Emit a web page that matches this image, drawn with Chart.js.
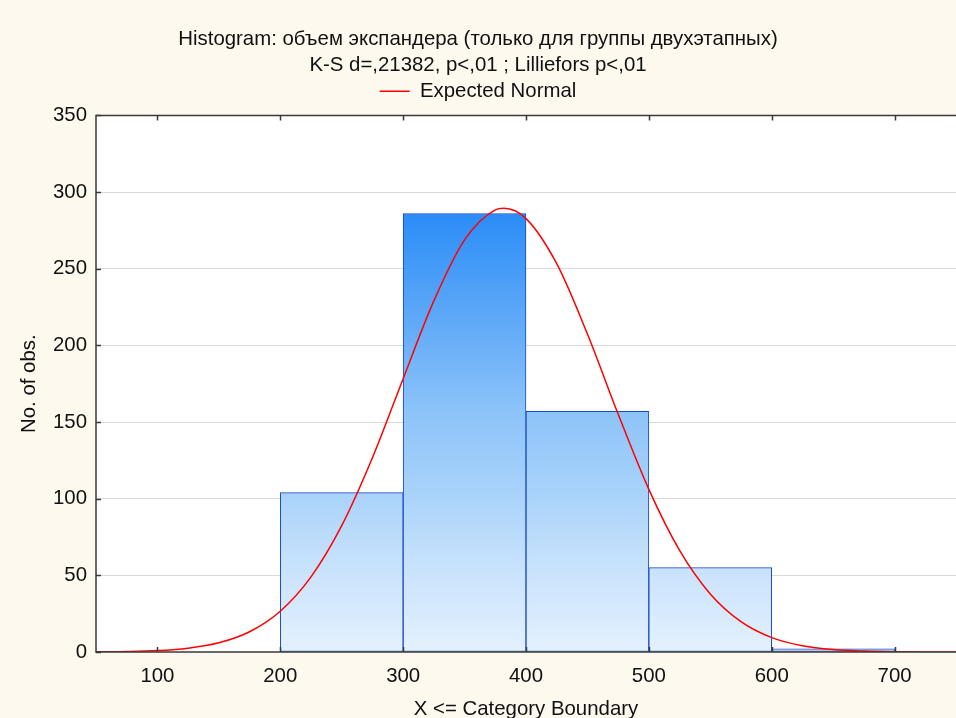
<!DOCTYPE html>
<html>
<head>
<meta charset="utf-8">
<script src="https://cdn.jsdelivr.net/npm/chart.js@4/dist/chart.umd.min.js"></script>
<style>
  html, body { margin: 0; padding: 0; background: #fdf9ee; }
  canvas { display: block; }
</style>
</head>
<body>
<canvas id="myChart" width="956" height="718"></canvas>
<script>
// dati
const titleLines = ['Histogram: объем экспандера (только для группы двухэтапных)', 'K-S d=,21382, p<,01 ; Lilliefors p<,01'];
const binStart = [200, 300, 400, 500, 600];
const binWidth = 100;
const binCounts = [104, 286, 157, 55, 2];

// curva normale attesa (letta ogni 25 unita' + il picco)
const curveX = [50, 75, 100, 125, 150, 175, 200, 225, 250, 275, 300, 325, 350, 375, 382, 400, 425, 450, 475, 500, 525, 550, 575, 600, 625, 650, 675, 700, 725, 750];
const curveY = [0.1, 0.3, 0.9, 2.5, 6.0, 13.2, 26.6, 49.0, 82.4, 126.7, 178.3, 229.0, 268.8, 288.4, 289.4, 282.7, 253.3, 207.4, 155.2, 106.1, 66.3, 37.9, 19.8, 9.4, 4.1, 1.6, 0.6, 0.2, 0.05, 0.01];

const xTicks = [100, 200, 300, 400, 500, 600, 700];
const yTicks = [0, 50, 100, 150, 200, 250, 300, 350];

const FONT = "'Liberation Sans', Arial, sans-serif";
const FS = 20.4;
const TXT = '#111111';

// sfondo bianco dell'area, cornice e tacche interne
const framePlugin = {
    id: 'frame',
    afterInit(chart) {
        // spazio extra sotto la legenda
        const lg = chart.legend;
        if (lg) {
            const origFit = lg.fit;
            lg.fit = function() {
                origFit.call(this);
                this.height += 4;
            };
        }
    },
    beforeDraw(chart) {
        const a = chart.chartArea;
        const ctx = chart.ctx;
        ctx.save();
        ctx.fillStyle = '#ffffff';
        ctx.fillRect(a.left, a.top, a.right - a.left, a.bottom - a.top);
        ctx.restore();
    },
    afterDatasetsDraw(chart) {
        const a = chart.chartArea;
        const ctx = chart.ctx;
        const xs = chart.scales.x;
        const ys = chart.scales.y;
        ctx.save();
        ctx.strokeStyle = '#3a3a3a';
        ctx.lineWidth = 1.5;
        ctx.beginPath();
        ctx.moveTo(a.right, a.top);
        ctx.lineTo(a.left, a.top);
        ctx.lineTo(a.left, a.bottom);
        ctx.lineTo(a.right, a.bottom);
        ctx.stroke();
        ctx.beginPath();
        xTicks.forEach(v => {
            const px = Math.round(xs.getPixelForValue(v)) + 0.5;
            ctx.moveTo(px, a.bottom);
            ctx.lineTo(px, a.bottom - 5);
            ctx.moveTo(px, a.top);
            ctx.lineTo(px, a.top + 5);
        });
        yTicks.forEach(v => {
            const py = Math.round(ys.getPixelForValue(v)) + 0.5;
            ctx.moveTo(a.left, py);
            ctx.lineTo(a.left + 5, py);
        });
        ctx.stroke();
        ctx.restore();
    }
};

function barGradient(context) {
    const chart = context.chart;
    const a = chart.chartArea;
    if (!a) return 'rgba(100,170,250,0.6)';
    const g = chart.ctx.createLinearGradient(0, a.top, 0, a.bottom);
    g.addColorStop(0, 'rgb(30,128,245)');
    g.addColorStop(0.18, 'rgb(42,140,247)');
    g.addColorStop(0.4, 'rgb(100,172,248)');
    g.addColorStop(0.55, 'rgb(140,195,249)');
    g.addColorStop(0.7, 'rgb(168,210,250)');
    g.addColorStop(0.84, 'rgb(200,226,252)');
    g.addColorStop(1, 'rgb(228,241,254)');
    return g;
}

const ctx = document.getElementById('myChart').getContext('2d');
const chart = new Chart(ctx, {
    type: 'bar',
    data: {
        datasets: [{
            type: 'line',
            label: 'Expected Normal',
            data: curveX.map((x, i) => ({ x: x, y: curveY[i] })),
            borderColor: '#ff0000',
            borderWidth: 1.5,
            pointRadius: 0,
            cubicInterpolationMode: 'monotone',
            fill: false,
            order: 0
        }, {
            type: 'bar',
            label: 'obs',
            data: binStart.map((s, i) => ({ x: s + binWidth / 2, y: binCounts[i] })),
            backgroundColor: barGradient,
            borderColor: '#1747c8',
            borderWidth: 1,
            borderSkipped: false,
            barPercentage: 1,
            categoryPercentage: 1,
            order: 1
        }]
    },
    options: {
        responsive: false,
        animation: false,
        layout: { padding: { left: 0, right: 0, top: 0, bottom: 0 } },
        plugins: {
            title: {
                display: true,
                text: titleLines,
                color: TXT,
                font: { family: FONT, size: FS, weight: 'normal', lineHeight: 1.275 },
                padding: { top: 26, bottom: 0 }
            },
            legend: {
                display: true,
                labels: {
                    color: TXT,
                    font: { family: FONT, size: FS },
                    usePointStyle: true,
                    pointStyleWidth: 30,
                    pointStyle: 'line',
                    padding: 3,
                    filter: item => item.text === 'Expected Normal'
                }
            },
            tooltip: { enabled: false }
        },
        scales: {
            x: {
                type: 'linear',
                min: 50,
                max: 750,
                offset: false,
                afterFit: s => { s.height = 66; },
                afterBuildTicks: s => { s.ticks = xTicks.map(v => ({ value: v })); },
                ticks: {
                    color: TXT,
                    font: { family: FONT, size: FS },
                    padding: 12,
                    maxRotation: 0
                },
                grid: { display: false, drawTicks: false },
                border: { display: false },
                title: {
                    display: true,
                    text: 'X <= Category Boundary',
                    color: TXT,
                    font: { family: FONT, size: FS },
                    padding: { top: 0, bottom: -4 }
                }
            },
            y: {
                min: 0,
                max: 350,
                afterFit: s => { s.width = 96; },
                afterBuildTicks: s => { s.ticks = yTicks.map(v => ({ value: v })); },
                ticks: {
                    color: TXT,
                    font: { family: FONT, size: FS },
                    padding: 9
                },
                grid: {
                    drawTicks: false,
                    color: c => (c.tick && c.tick.value > 0 && c.tick.value < 350) ? '#d9d9d9' : 'rgba(0,0,0,0)',
                    lineWidth: 1
                },
                border: { display: false },
                title: {
                    display: true,
                    text: 'No. of obs.',
                    color: TXT,
                    font: { family: FONT, size: FS },
                    padding: { top: 17, bottom: 0 }
                }
            }
        }
    },
    plugins: [framePlugin]
});
</script>
</body>
</html>
